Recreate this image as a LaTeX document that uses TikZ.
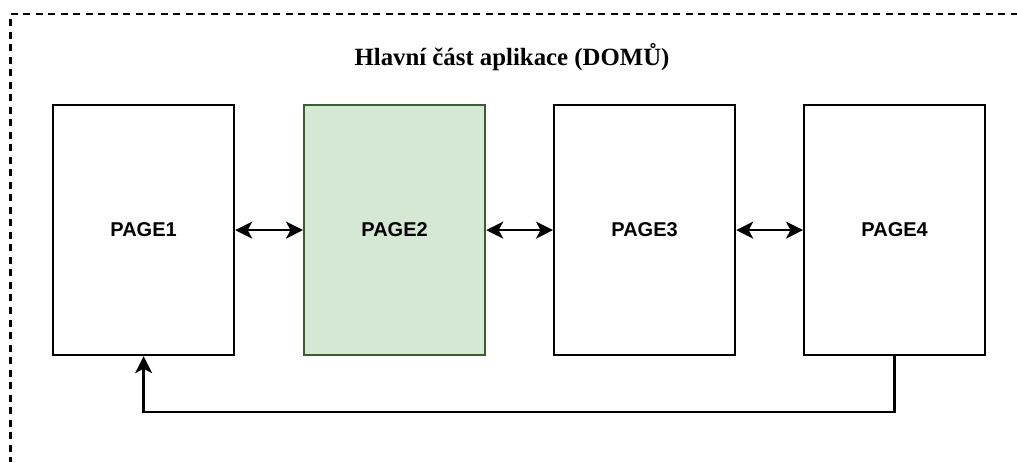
\documentclass[tikz,border=0pt]{standalone}
\usepackage{fontspec}
\setmainfont{Liberation Serif}
\newfontfamily\labelfont{Liberation Sans}
\usetikzlibrary{arrows.meta}
\definecolor{pagegreen}{HTML}{D5E8D4}
\definecolor{pagegreenline}{HTML}{3D5C30}
\tikzset{
  tip/.tip={Stealth[length=17pt 0,width=17pt 0,inset=4.5pt 0]},
  pagebox/.style={draw=black, line width=2.2pt, fill=white, minimum width=181pt,
    minimum height=250pt, inner sep=0pt, anchor=north west,
    font=\labelfont\bfseries\fontsize{20}{22}\selectfont},
  link/.style={line width=2.4pt, -tip},
  twoway/.style={line width=2.4pt, tip-tip},
  frame/.style={line width=2.2pt, dash pattern=on 7pt off 5.5pt}
}
\begin{document}
\begin{tikzpicture}[x=1pt,y=-1pt]
  \useasboundingbox (0,0) rectangle (1017,462);
  % outer dashed group frame (only its top and left edges fall inside the page)
  \draw[frame] (1030,14) -- (10.5,14) -- (10.5,475);
  \node[font=\bfseries\fontsize{24.8}{28}\selectfont] (title) at (512,57) {Hlavní část aplikace (DOMŮ)};
  % pages
  \node[pagebox] (p1) at (52,104) {PAGE1};
  \node[pagebox, fill=pagegreen, draw=pagegreenline] (p2) at (303,104) {PAGE2};
  \node[pagebox] (p3) at (553,104) {PAGE3};
  \node[pagebox] (p4) at (803,104) {PAGE4};
  % navigation between neighbouring pages
  \draw[twoway] (p1.east) -- (p2.west);
  \draw[twoway] (p2.east) -- (p3.west);
  \draw[twoway] (p3.east) -- (p4.west);
  % return path from the last page to the first
  \draw[link] (p4.south) -- ++(0,56) -| (p1.south);
\end{tikzpicture}
\end{document}
